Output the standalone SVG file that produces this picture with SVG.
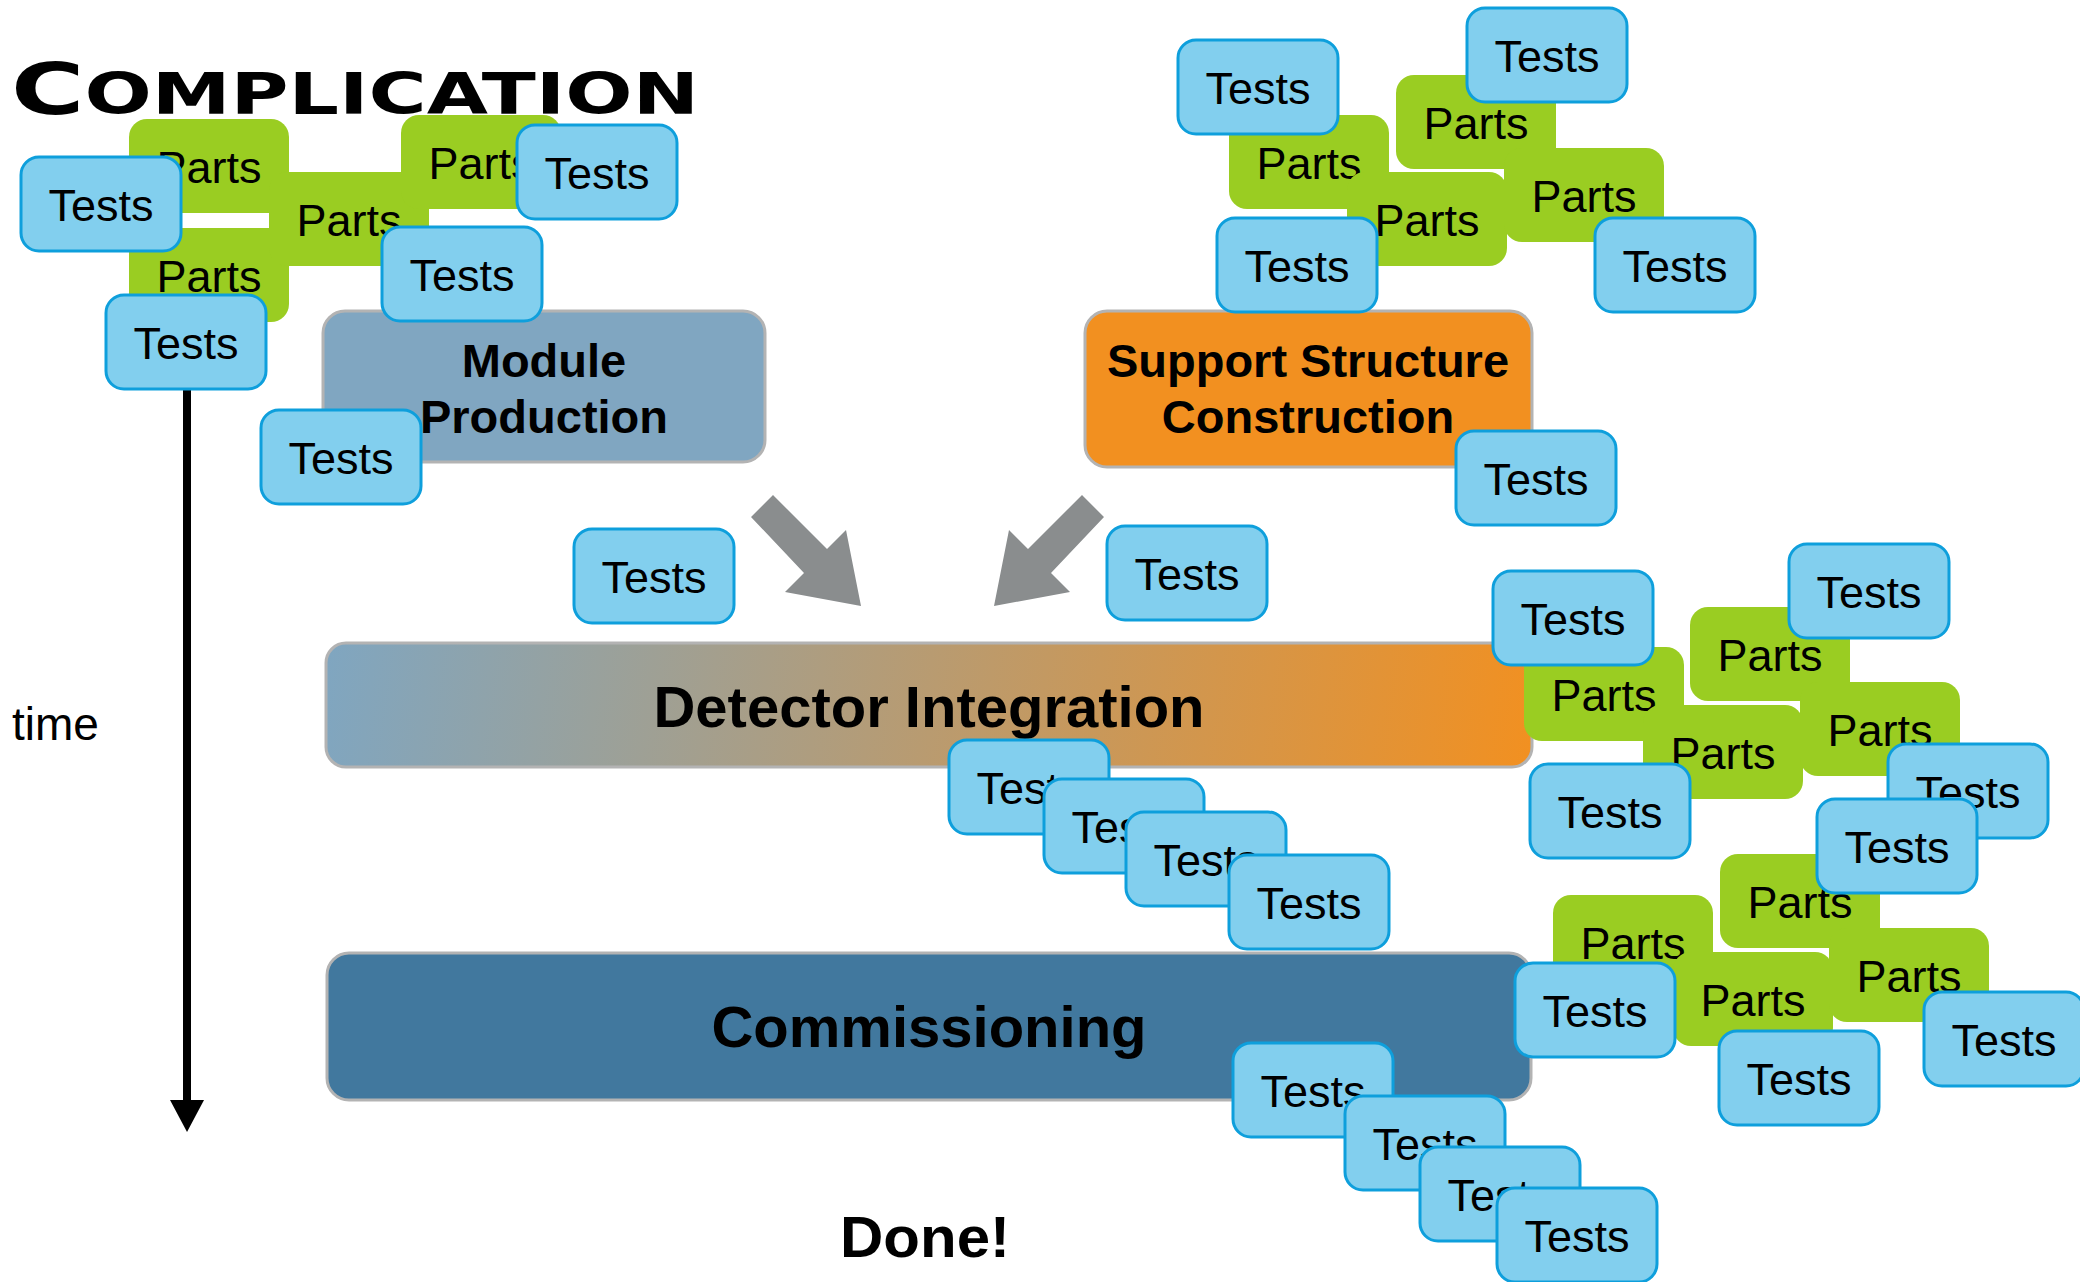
<svg xmlns="http://www.w3.org/2000/svg" width="2080" height="1282" viewBox="0 0 2080 1282">
  <style>
    .tb { fill: #82cfee; stroke: #0e9fdc; stroke-width: 3; }
    .pb { fill: #9acd22; }
    .lbl { font-family: "Liberation Sans", Arial, sans-serif; font-size: 45px; fill: #000; text-anchor: middle; }
    .phase { stroke: #b3b3b3; stroke-width: 3; }
    .ph1 { font-family: "Liberation Sans", Arial, sans-serif; font-weight: bold; font-size: 47px; fill: #000; text-anchor: middle; }
    .ph2 { font-family: "Liberation Sans", Arial, sans-serif; font-weight: bold; font-size: 58px; fill: #000; text-anchor: middle; }
    .flow { fill: #8a8d8e; }
  </style>
  <defs>
    <linearGradient id="integrationFill" gradientUnits="userSpaceOnUse" x1="326" y1="620" x2="1532" y2="790">
      <stop offset="0" stop-color="#7fa6c1"/>
      <stop offset="1" stop-color="#f29020"/>
    </linearGradient>
    <marker id="timeHead" viewBox="0 0 32 34" refX="0" refY="17" markerWidth="32" markerHeight="34" markerUnits="userSpaceOnUse" orient="auto">
      <path d="M0,0 L32,17 L0,34 z" fill="#000"/>
    </marker>
    <rect id="tile" width="160" height="94" rx="18"/>
  </defs>

  <rect width="2080" height="1282" fill="#fff"/>

  <!-- heading -->
  <g id="title">
    <text x="11" y="114" font-family="'DejaVu Sans', sans-serif" font-weight="bold" textLength="688" lengthAdjust="spacingAndGlyphs"><tspan font-size="72">C</tspan><tspan font-size="57">OMPLICATION</tspan></text>
  </g>

  <!-- phase boxes -->
  <g id="module-production">
    <rect class="phase" x="323" y="311" width="442" height="151" rx="22" fill="#80a6c1"/>
    <text class="ph1" x="544" y="377">Module</text>
    <text class="ph1" x="544" y="433">Production</text>
  </g>
  <g id="support-structure">
    <rect class="phase" x="1085" y="311" width="447" height="156" rx="22" fill="#f29020"/>
    <text class="ph1" x="1308" y="377">Support Structure</text>
    <text class="ph1" x="1308" y="433">Construction</text>
  </g>
  <g id="detector-integration">
    <rect class="phase" x="326" y="643" width="1206" height="124" rx="20" fill="url(#integrationFill)"/>
    <text class="ph2" x="929" y="727">Detector Integration</text>
  </g>
  <g id="commissioning">
    <rect class="phase" x="327" y="953" width="1204" height="147" rx="22" fill="#41789e"/>
    <text class="ph2" x="929" y="1047">Commissioning</text>
  </g>

  <!-- connectors: flow arrows and time axis -->
  <g id="connectors">
    <polygon class="flow" points="773,495 827,549 846,530 861,606 785,592 804,573 751,517"/>
    <polygon class="flow" points="1082,495 1028,549 1009,530 994,606 1070,592 1051,573 1104,517"/>
    <line x1="187" y1="380" x2="187" y2="1100" stroke="#000" stroke-width="8" marker-end="url(#timeHead)"/>
  </g>

  <g id="time-label">
    <text x="12" y="740" font-family="'Liberation Sans', Arial, sans-serif" font-size="46">time</text>
  </g>
  <g id="done-label">
    <text x="840" y="1257" font-family="'Liberation Sans', Arial, sans-serif" font-weight="bold" font-size="58" textLength="170" lengthAdjust="spacingAndGlyphs">Done!</text>
  </g>

  <!-- parts tiles -->
  <g id="parts-01" transform="translate(129,119)"><use href="#tile" class="pb"/><text class="lbl" x="80" y="64">Parts</text></g>
  <g id="parts-02" transform="translate(129,228)"><use href="#tile" class="pb"/><text class="lbl" x="80" y="64">Parts</text></g>
  <g id="parts-03" transform="translate(269,172)"><use href="#tile" class="pb"/><text class="lbl" x="80" y="64">Parts</text></g>
  <g id="parts-04" transform="translate(401,115)"><use href="#tile" class="pb"/><text class="lbl" x="80" y="64">Parts</text></g>
  <g id="parts-05" transform="translate(1229,115)"><use href="#tile" class="pb"/><text class="lbl" x="80" y="64">Parts</text></g>
  <g id="parts-06" transform="translate(1396,75)"><use href="#tile" class="pb"/><text class="lbl" x="80" y="64">Parts</text></g>
  <g id="parts-07" transform="translate(1347,172)"><use href="#tile" class="pb"/><text class="lbl" x="80" y="64">Parts</text></g>
  <g id="parts-08" transform="translate(1504,148)"><use href="#tile" class="pb"/><text class="lbl" x="80" y="64">Parts</text></g>
  <g id="parts-09" transform="translate(1524,647)"><use href="#tile" class="pb"/><text class="lbl" x="80" y="64">Parts</text></g>
  <g id="parts-10" transform="translate(1690,607)"><use href="#tile" class="pb"/><text class="lbl" x="80" y="64">Parts</text></g>
  <g id="parts-11" transform="translate(1643,705)"><use href="#tile" class="pb"/><text class="lbl" x="80" y="64">Parts</text></g>
  <g id="parts-12" transform="translate(1800,682)"><use href="#tile" class="pb"/><text class="lbl" x="80" y="64">Parts</text></g>
  <g id="parts-13" transform="translate(1553,895)"><use href="#tile" class="pb"/><text class="lbl" x="80" y="64">Parts</text></g>
  <g id="parts-14" transform="translate(1720,854)"><use href="#tile" class="pb"/><text class="lbl" x="80" y="64">Parts</text></g>
  <g id="parts-15" transform="translate(1673,952)"><use href="#tile" class="pb"/><text class="lbl" x="80" y="64">Parts</text></g>
  <g id="parts-16" transform="translate(1829,928)"><use href="#tile" class="pb"/><text class="lbl" x="80" y="64">Parts</text></g>

  <!-- test tiles -->
  <g id="tests-01" transform="translate(21,157)"><use href="#tile" class="tb"/><text class="lbl" x="80" y="64">Tests</text></g>
  <g id="tests-02" transform="translate(517,125)"><use href="#tile" class="tb"/><text class="lbl" x="80" y="64">Tests</text></g>
  <g id="tests-03" transform="translate(382,227)"><use href="#tile" class="tb"/><text class="lbl" x="80" y="64">Tests</text></g>
  <g id="tests-04" transform="translate(106,295)"><use href="#tile" class="tb"/><text class="lbl" x="80" y="64">Tests</text></g>
  <g id="tests-05" transform="translate(261,410)"><use href="#tile" class="tb"/><text class="lbl" x="80" y="64">Tests</text></g>
  <g id="tests-06" transform="translate(1456,431)"><use href="#tile" class="tb"/><text class="lbl" x="80" y="64">Tests</text></g>
  <g id="tests-07" transform="translate(1178,40)"><use href="#tile" class="tb"/><text class="lbl" x="80" y="64">Tests</text></g>
  <g id="tests-08" transform="translate(1467,8)"><use href="#tile" class="tb"/><text class="lbl" x="80" y="64">Tests</text></g>
  <g id="tests-09" transform="translate(1217,218)"><use href="#tile" class="tb"/><text class="lbl" x="80" y="64">Tests</text></g>
  <g id="tests-10" transform="translate(1595,218)"><use href="#tile" class="tb"/><text class="lbl" x="80" y="64">Tests</text></g>
  <g id="tests-11" transform="translate(574,529)"><use href="#tile" class="tb"/><text class="lbl" x="80" y="64">Tests</text></g>
  <g id="tests-12" transform="translate(1107,526)"><use href="#tile" class="tb"/><text class="lbl" x="80" y="64">Tests</text></g>
  <g id="tests-13" transform="translate(949,740)"><use href="#tile" class="tb"/><text class="lbl" x="80" y="64">Tests</text></g>
  <g id="tests-14" transform="translate(1044,779)"><use href="#tile" class="tb"/><text class="lbl" x="80" y="64">Tests</text></g>
  <g id="tests-15" transform="translate(1126,812)"><use href="#tile" class="tb"/><text class="lbl" x="80" y="64">Tests</text></g>
  <g id="tests-16" transform="translate(1229,855)"><use href="#tile" class="tb"/><text class="lbl" x="80" y="64">Tests</text></g>
  <g id="tests-17" transform="translate(1233,1043)"><use href="#tile" class="tb"/><text class="lbl" x="80" y="64">Tests</text></g>
  <g id="tests-18" transform="translate(1345,1096)"><use href="#tile" class="tb"/><text class="lbl" x="80" y="64">Tests</text></g>
  <g id="tests-19" transform="translate(1420,1147)"><use href="#tile" class="tb"/><text class="lbl" x="80" y="64">Tests</text></g>
  <g id="tests-20" transform="translate(1497,1188)"><use href="#tile" class="tb"/><text class="lbl" x="80" y="64">Tests</text></g>
  <g id="tests-21" transform="translate(1493,571)"><use href="#tile" class="tb"/><text class="lbl" x="80" y="64">Tests</text></g>
  <g id="tests-22" transform="translate(1789,544)"><use href="#tile" class="tb"/><text class="lbl" x="80" y="64">Tests</text></g>
  <g id="tests-23" transform="translate(1530,764)"><use href="#tile" class="tb"/><text class="lbl" x="80" y="64">Tests</text></g>
  <g id="tests-24" transform="translate(1888,744)"><use href="#tile" class="tb"/><text class="lbl" x="80" y="64">Tests</text></g>
  <g id="tests-25" transform="translate(1817,799)"><use href="#tile" class="tb"/><text class="lbl" x="80" y="64">Tests</text></g>
  <g id="tests-26" transform="translate(1515,963)"><use href="#tile" class="tb"/><text class="lbl" x="80" y="64">Tests</text></g>
  <g id="tests-27" transform="translate(1719,1031)"><use href="#tile" class="tb"/><text class="lbl" x="80" y="64">Tests</text></g>
  <g id="tests-28" transform="translate(1924,992)"><use href="#tile" class="tb"/><text class="lbl" x="80" y="64">Tests</text></g>
</svg>
